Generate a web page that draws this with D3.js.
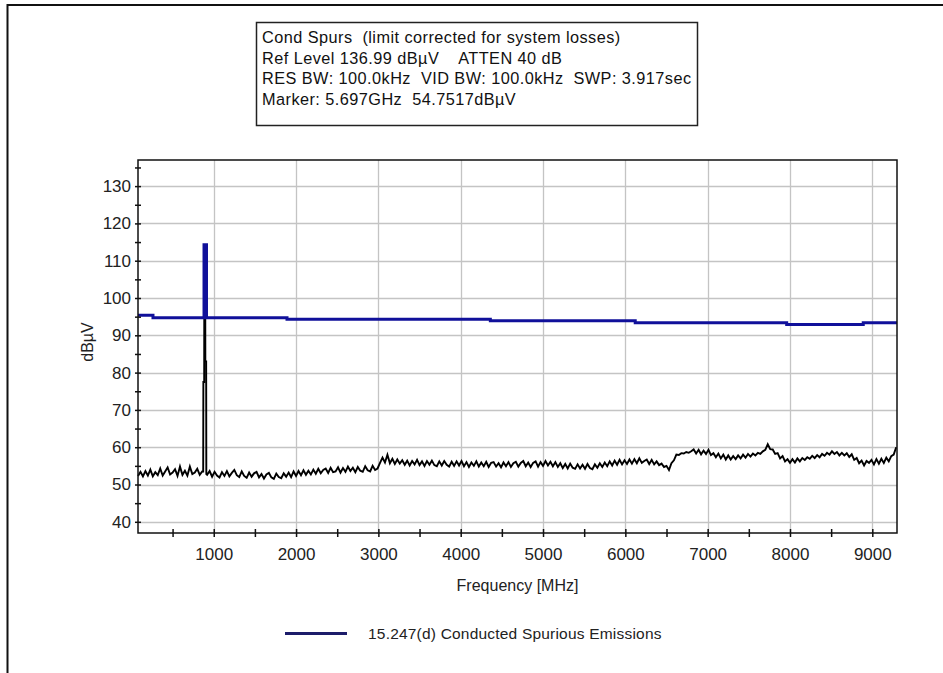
<!DOCTYPE html>
<html>
<head>
<meta charset="utf-8">
<script src="https://cdn.jsdelivr.net/npm/d3@7/dist/d3.min.js"></script>
<style>
  html, body { margin: 0; padding: 0; background: #fff; }
  svg { display: block; font-family: "Liberation Sans", Arial, sans-serif; }
</style>
</head>
<body>
<svg id="chart" width="943" height="673"></svg>
<script>
// Analyzer sweep: 80 MHz to 9300 MHz, one trace sample every 30 MHz
const sweepStart = 80;
const sweepStop = 9300;
const sweepStep = 30;

// Measured trace level (dBµV) at each sweep sample
const traceLevel = [
  52.3, 53.4, 52.2, 53.6, 52.4, 54.0, 52.2, 53.3, 52.5, 54.3,
  52.4, 53.5, 54.6, 52.7, 53.2, 54.1, 52.3, 54.8, 52.6, 53.7,
  52.4, 54.8, 52.8, 53.2, 54.2, 52.6, 53.5, 53.0, 52.6, 53.6,
  52.1, 53.4, 52.4, 51.9, 53.3, 52.3, 53.6, 52.2, 53.1, 53.9,
  52.5, 52.0, 53.5, 52.3, 51.8, 53.2, 52.1, 53.0, 53.4, 51.9,
  52.8, 51.6, 52.7, 53.1, 51.9, 51.5, 52.9, 52.0, 51.7, 53.0,
  52.1, 53.2, 52.0, 53.5, 52.3, 53.6, 52.5, 53.8, 52.6, 53.7,
  52.7, 54.0, 52.9, 54.2, 53.0, 53.9, 54.3, 53.1, 54.5, 53.3,
  53.5, 54.6, 53.2, 54.4, 53.4, 54.8, 53.6, 54.5, 53.3, 54.7,
  53.7, 53.4, 54.9, 53.8, 53.5, 55.0, 53.9, 54.3, 55.8, 57.2,
  55.9, 58.0, 55.7, 56.9, 55.5, 56.7, 55.6, 56.5, 55.3, 56.4,
  55.1, 56.3, 55.4, 56.6, 55.2, 56.2, 55.0, 56.3, 55.3, 56.4,
  55.2, 54.9, 56.2, 55.1, 56.3, 55.3, 54.8, 56.1, 55.0, 56.2,
  55.1, 56.3, 54.9, 56.0, 54.7, 55.9, 55.0, 56.2, 54.8, 55.9,
  54.9, 56.1, 54.7, 55.8, 56.0, 54.8, 55.7, 54.6, 55.9, 54.9,
  56.0, 54.7, 55.7, 56.1, 54.8, 55.8, 56.3, 54.9, 55.9, 54.7,
  55.8, 56.2, 54.8, 56.0, 55.0, 56.3, 55.1, 56.1, 54.9, 56.0,
  54.7, 55.7, 54.4, 55.5, 54.3, 55.6, 54.5, 54.2, 55.4, 54.3,
  55.3, 54.2, 55.5, 54.4, 54.1, 55.4, 54.5, 55.7, 54.7, 55.9,
  54.9, 56.2, 55.1, 56.4, 55.3, 56.6, 55.4, 56.5, 55.5, 56.7,
  55.6, 56.8, 55.7, 57.0, 55.8, 56.3, 56.7, 55.5, 56.6, 55.4,
  56.2, 55.2, 55.6, 54.7, 55.0, 53.9, 55.7, 56.5, 58.0, 57.9,
  58.4, 58.3, 58.7, 58.5, 58.9, 59.4, 58.3, 59.3, 58.1, 59.1,
  58.2, 59.3, 57.9, 58.4, 57.3, 58.3, 57.0, 58.0, 56.7, 57.8,
  56.7, 57.6, 56.8, 57.8, 57.0, 58.0, 57.2, 58.2, 57.5, 58.3,
  57.8, 58.5, 58.2, 58.9, 59.3, 60.8, 59.5, 59.4, 58.2, 58.4,
  57.0, 57.6, 56.2, 56.8, 55.8, 56.8, 55.9, 57.0, 56.2, 57.1,
  56.6, 57.3, 56.9, 57.7, 57.1, 57.9, 57.3, 58.2, 57.7, 58.5,
  58.0, 58.9, 58.2, 58.7, 57.8, 58.5, 57.8, 58.4, 57.4, 58.1,
  56.6, 57.1, 55.7, 56.4, 55.1, 56.3, 55.8, 56.6, 55.4, 56.8,
  55.6, 56.9, 55.8, 57.2, 56.2, 57.6, 58.0, 60.0
];

// Fine samples across the in-band carrier (902-928 MHz ISM band)
const carrierFreq  = [872, 874, 884, 886, 896, 898, 908, 910];
const carrierLevel = [53.5, 77.5, 77.5, 112, 112, 83, 83, 52.8];

// Limit line (corrected for system losses), as breakpoints
const limitFreq  = [80, 262, 262, 882, 882, 912, 912, 1890, 1890, 4360, 4360, 6120, 6120, 7960, 7960, 8890, 8890, 9300];
const limitLevel = [95.4, 95.4, 94.7, 94.7, 114.3, 114.3, 94.7, 94.7, 94.3, 94.3, 93.9, 93.9, 93.4, 93.4, 92.9, 92.9, 93.4, 93.4];

// Axis ticks
const xMajorTicks = [1000, 2000, 3000, 4000, 5000, 6000, 7000, 8000, 9000];
const xMinorTicks = [500, 1500, 2500, 3500, 4500, 5500, 6500, 7500, 8500];
const yMajorTicks = [40, 50, 60, 70, 80, 90, 100, 110, 120, 130];
const yMinorTicks = [45, 55, 65, 75, 85, 95, 105, 115, 125, 135];

// Header and legend text
const headerLines = [
  "Cond Spurs  (limit corrected for system losses)",
  "Ref Level 136.99 dB\u00b5V    ATTEN 40 dB",
  "RES BW: 100.0kHz  VID BW: 100.0kHz  SWP: 3.917sec",
  "Marker: 5.697GHz  54.7517dB\u00b5V"
];
const legendLabel = "15.247(d) Conducted Spurious Emissions";
const xTitle = "Frequency [MHz]";
const yTitle = "dB\u00b5V";

const svg = d3.select("#chart");
const plot = { left: 138, top: 160, right: 897, bottom: 533 };

const x = d3.scaleLinear().domain([sweepStart, sweepStop]).range([plot.left, plot.right]);
const y = d3.scaleLinear().domain([37, 137]).range([plot.bottom, plot.top]);

// Outer window frame
svg.append("path")
  .attr("d", "M7.5,673 V5 H943")
  .attr("fill", "none").attr("stroke", "#111").attr("stroke-width", 2);

// Header box
const hb = svg.append("g");
hb.append("rect").attr("x", 256.5).attr("y", 22.5).attr("width", 441).attr("height", 103)
  .attr("fill", "#fff").attr("stroke", "#222").attr("stroke-width", 1.5);
hb.selectAll("text").data(headerLines).join("text")
  .attr("x", 262).attr("y", (d, i) => 43 + i * 20.7)
  .attr("font-size", 16.3).attr("letter-spacing", 0.45).attr("fill", "#111")
  .attr("xml:space", "preserve")
  .text(d => d);

// Grid lines
const grid = svg.append("g").attr("stroke", "#c4c4c4").attr("stroke-width", 1.3);
grid.selectAll(".gx").data(xMajorTicks).join("line")
  .attr("x1", d => Math.round(x(d)) + 0.5).attr("x2", d => Math.round(x(d)) + 0.5)
  .attr("y1", plot.top).attr("y2", plot.bottom);
grid.selectAll(".gy").data(yMajorTicks).join("line")
  .attr("y1", d => Math.round(y(d)) + 0.5).attr("y2", d => Math.round(y(d)) + 0.5)
  .attr("x1", plot.left).attr("x2", plot.right);

// Trace: sweep samples plus carrier detail
const tracePts = traceLevel
  .map((v, i) => [sweepStart + i * sweepStep, v])
  .filter(p => p[0] < carrierFreq[0] || p[0] > carrierFreq[carrierFreq.length - 1])
  .concat(carrierFreq.map((f, i) => [f, carrierLevel[i]]))
  .sort((a, b) => a[0] - b[0]);

const line = d3.line().x(d => x(d[0])).y(d => y(d[1]));

svg.append("path").datum(tracePts)
  .attr("d", line).attr("fill", "none")
  .attr("stroke", "#000").attr("stroke-width", 1.9).attr("stroke-linejoin", "miter");

// Limit line
svg.append("path").datum(limitFreq.map((f, i) => [f, limitLevel[i]]))
  .attr("d", line).attr("fill", "none")
  .attr("stroke", "#10109a").attr("stroke-width", 3);

// Plot frame
svg.append("rect").attr("x", plot.left).attr("y", plot.top)
  .attr("width", plot.right - plot.left).attr("height", plot.bottom - plot.top)
  .attr("fill", "none").attr("stroke", "#111").attr("stroke-width", 1.5);

// X axis
const xAxis = svg.append("g").attr("transform", `translate(0,${plot.bottom})`)
  .call(d3.axisBottom(x).tickValues(xMajorTicks.concat(xMinorTicks).sort(d3.ascending))
    .tickSize(4).tickFormat(d => (d % 1000 === 0 ? d : "")));
xAxis.select(".domain").remove();
xAxis.selectAll(".tick line").attr("y1", -4).attr("y2", 4).attr("stroke", "#111").attr("stroke-width", 1.5);
xAxis.selectAll(".tick text").attr("y", 15).attr("dy", "0.71em")
  .attr("font-size", 17).attr("fill", "#222").attr("font-family", "Liberation Sans, Arial, sans-serif");

// Y axis
const yAxis = svg.append("g").attr("transform", `translate(${plot.left},0)`)
  .call(d3.axisLeft(y).tickValues(yMajorTicks.concat(yMinorTicks).sort(d3.ascending))
    .tickSize(3).tickFormat(d => (d % 10 === 0 ? d : "")));
yAxis.select(".domain").remove();
yAxis.selectAll(".tick line").attr("x1", -3).attr("x2", 3).attr("stroke", "#111").attr("stroke-width", 1.5);
yAxis.selectAll(".tick text").attr("x", -7)
  .attr("font-size", 17).attr("fill", "#222").attr("font-family", "Liberation Sans, Arial, sans-serif");

// Axis titles
svg.append("text").attr("x", (plot.left + plot.right) / 2).attr("y", 591)
  .attr("text-anchor", "middle").attr("font-size", 16).attr("fill", "#222").text(xTitle);
svg.append("text").attr("transform", "translate(93,342) rotate(-90)")
  .attr("text-anchor", "middle").attr("font-size", 16).attr("fill", "#222").text(yTitle);

// Legend
svg.append("line").attr("x1", 285).attr("x2", 347).attr("y1", 633.5).attr("y2", 633.5)
  .attr("stroke", "#1c1c6a").attr("stroke-width", 3);
svg.append("text").attr("x", 368).attr("y", 639)
  .attr("font-size", 15.5).attr("letter-spacing", 0.2).attr("fill", "#222").text(legendLabel);
</script>
</body>
</html>
